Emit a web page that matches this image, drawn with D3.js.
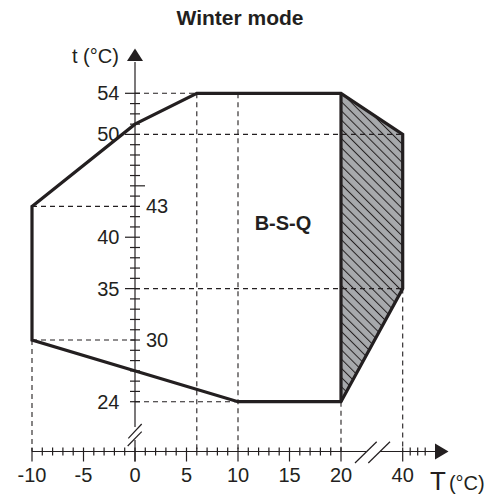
<!DOCTYPE html>
<html>
<head>
<meta charset="utf-8">
<script src="https://cdnjs.cloudflare.com/ajax/libs/d3/7.8.5/d3.min.js"></script>
<style>
    body { margin: 0; background: #fff; }
    text { font-family: "Liberation Sans", Arial, sans-serif; fill: #231f20; }
</style>
</head>
<body>
<div id="chart"></div>
<script>
//Datos del gráfico
const outlineT = [-10, 0, 6, 20, 40, 40, 20, 10, -10];
const outlineW = [43, 51, 54, 54, 50, 35, 24, 24, 30];
const shadeT = [20, 40, 40, 20];
const shadeW = [54, 50, 35, 24];
//Guías discontinuas
const hLevels = [54, 50, 43, 35, 30, 24];
const hFrom = [0, 0, -10, 0, -10, 0];
const hTo = [6, 40, 0, 40, 0, 10];
const vLevels = [-10, 6, 10, 20, 40];
const vFrom = [30, 54, 54, 24, 35];
//Etiquetas de ejes
const xTickLabels = [-10, -5, 0, 5, 10, 15, 20, 40];
const xMinor = d3.range(-10, 21).concat([41, 42, 43]);
const yMinor = d3.range(24, 55);
const yLongLeft = [54, 50, 40, 35];
const yLongRight = [45];
const yLabelsLeft = [54, 50, 40, 35, 24];
const yLabelsRight = [43, 30];

const COLOR_LINE = '#231f20';
const COLOR_SHADE = '#a7a9ac';

let width = 498, height = 495;
let axisY = 451.5;

let svg = d3.select('#chart')
    .append('svg')
    .attr('width', width)
    .attr('height', height);

//Patrón de rayado
let defs = svg.append('defs');
let pattern = defs.append('pattern')
    .attr('id', 'hatch')
    .attr('patternUnits', 'userSpaceOnUse')
    .attr('width', 6.5)
    .attr('height', 6.5)
    .attr('patternTransform', 'rotate(-45)');
pattern.append('rect').attr('width', 6.5).attr('height', 6.5).attr('fill', COLOR_SHADE);
pattern.append('line')
    .attr('x1', 0.5).attr('y1', 0).attr('x2', 0.5).attr('y2', 6.5)
    .attr('stroke', COLOR_LINE).attr('stroke-width', 1);

//Escalas (eje X con corte entre 20 y 40)
let x = d3.scaleLinear()
    .domain([-10, 20, 40, 44])
    .range([32, 341, 402.7, 432.7]);

let y = d3.scaleLinear()
    .domain([24, 54])
    .range([401.7, 93.3]);

//Título
svg.append('text')
    .attr('x', 240)
    .attr('y', 25)
    .attr('text-anchor', 'middle')
    .style('font-size', '21px')
    .style('font-weight', 'bold')
    .text('Winter mode');

//Zona sombreada
let area = d3.line().x(function(d) { return x(d[0]); }).y(function(d) { return y(d[1]); });
svg.append('path')
    .datum(d3.zip(shadeT, shadeW))
    .attr('d', function(d) { return area(d) + 'Z'; })
    .attr('fill', 'url(#hatch)');

//Guías
let guides = svg.append('g')
    .attr('stroke', COLOR_LINE)
    .attr('stroke-width', 1.1)
    .attr('stroke-dasharray', '5,4');

guides.selectAll('.h')
    .data(hLevels)
    .enter()
    .append('line')
    .attr('x1', function(d, i) { return x(hFrom[i]); })
    .attr('x2', function(d, i) { return x(hTo[i]); })
    .attr('y1', function(d) { return y(d); })
    .attr('y2', function(d) { return y(d); });

guides.selectAll('.v')
    .data(vLevels)
    .enter()
    .append('line')
    .attr('x1', function(d) { return x(d); })
    .attr('x2', function(d) { return x(d); })
    .attr('y1', function(d, i) { return y(vFrom[i]); })
    .attr('y2', axisY);

//Eje X
let axisG = svg.append('g').attr('stroke', COLOR_LINE).attr('stroke-width', 1.2).attr('fill', 'none');
axisG.append('line').attr('x1', x(-10)).attr('x2', 366).attr('y1', axisY).attr('y2', axisY);
axisG.append('line').attr('x1', 380).attr('x2', 440).attr('y1', axisY).attr('y2', axisY);
axisG.append('line').attr('x1', 355).attr('y1', 463).attr('x2', 376.7).attr('y2', 441.7);
axisG.append('line').attr('x1', 368.3).attr('y1', 463).attr('x2', 390).attr('y2', 441.7);
svg.append('path')
    .attr('d', 'M435,' + (axisY - 8) + 'L448.5,' + axisY + 'L435,' + (axisY + 8) + 'Z')
    .attr('fill', COLOR_LINE);

axisG.selectAll('.xminor')
    .data(xMinor)
    .enter()
    .append('line')
    .attr('x1', function(d) { return x(d); })
    .attr('x2', function(d) { return x(d); })
    .attr('y1', axisY - 4)
    .attr('y2', function(d) { return xTickLabels.indexOf(d) >= 0 ? axisY + 10 : axisY + 4; });
axisG.append('line')
    .attr('x1', x(40)).attr('x2', x(40))
    .attr('y1', axisY - 4).attr('y2', axisY + 10);

svg.selectAll('.xlabel')
    .data(xTickLabels)
    .enter()
    .append('text')
    .attr('x', function(d) { return x(d); })
    .attr('y', 482)
    .attr('text-anchor', 'middle')
    .style('font-size', '20px')
    .text(function(d) { return d; });

let tLabel = svg.append('text').attr('x', 430).attr('y', 490);
tLabel.append('tspan').style('font-size', '26px').text('T');
tLabel.append('tspan').attr('dx', 3).style('font-size', '20px').text('(°C)');

//Eje Y
axisG.append('line').attr('x1', x(0)).attr('x2', x(0)).attr('y1', 62).attr('y2', 427);
axisG.append('line').attr('x1', x(0)).attr('x2', x(0)).attr('y1', 440).attr('y2', axisY + 10);
axisG.append('line').attr('x1', 127.7).attr('y1', 446).attr('x2', 141.7).attr('y2', 431.7);
axisG.append('line').attr('x1', 128.3).attr('y1', 438.3).attr('x2', 141.7).attr('y2', 424);
svg.append('path')
    .attr('d', 'M' + (x(0) - 8) + ',61L' + x(0) + ',48.5L' + (x(0) + 8) + ',61Z')
    .attr('fill', COLOR_LINE);

axisG.selectAll('.yminor')
    .data(yMinor)
    .enter()
    .append('line')
    .attr('x1', function(d) { return yLongLeft.indexOf(d) >= 0 ? x(0) - 10 : x(0) - 5; })
    .attr('x2', function(d) { return yLongRight.indexOf(d) >= 0 ? x(0) + 10 : x(0) + 5; })
    .attr('y1', function(d) { return y(d); })
    .attr('y2', function(d) { return y(d); });

svg.selectAll('.ylabelL')
    .data(yLabelsLeft)
    .enter()
    .append('text')
    .attr('x', 119.5)
    .attr('y', function(d) { return y(d) + 7; })
    .attr('text-anchor', 'end')
    .style('font-size', '20px')
    .text(function(d) { return d; });

svg.selectAll('.ylabelR')
    .data(yLabelsRight)
    .enter()
    .append('text')
    .attr('x', 146)
    .attr('y', function(d) { return y(d) + 7; })
    .style('font-size', '20px')
    .text(function(d) { return d; });

svg.append('text')
    .attr('x', 72)
    .attr('y', 63)
    .style('font-size', '20px')
    .text('t (°C)');

//Contorno
let outline = d3.zip(outlineT, outlineW);
svg.append('path')
    .datum(outline)
    .attr('d', function(d) { return area(d) + 'Z'; })
    .attr('fill', 'none')
    .attr('stroke', COLOR_LINE)
    .attr('stroke-width', 3.2)
    .attr('stroke-linejoin', 'miter');
svg.append('path')
    .datum([[20, 54], [20, 24]])
    .attr('d', area)
    .attr('fill', 'none')
    .attr('stroke', COLOR_LINE)
    .attr('stroke-width', 3.2);

svg.append('text')
    .attr('x', 283)
    .attr('y', 230)
    .attr('text-anchor', 'middle')
    .style('font-size', '20px')
    .style('font-weight', 'bold')
    .text('B-S-Q');
</script>
</body>
</html>
